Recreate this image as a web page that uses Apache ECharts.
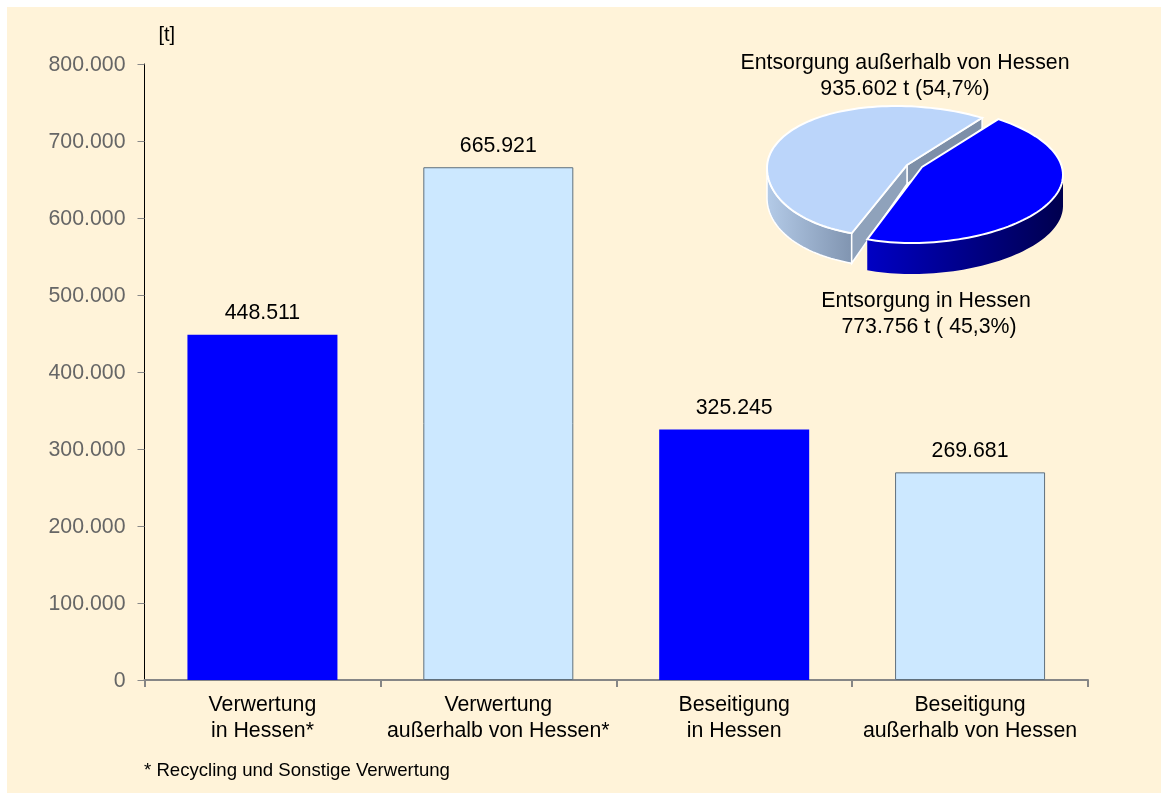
<!DOCTYPE html>
<html>
<head>
<meta charset="utf-8">
<style>html,body{margin:0;padding:0;background:#fff}#c{width:1161px;height:794px}</style>
<script src="https://cdn.jsdelivr.net/npm/echarts@6/dist/echarts.min.js"></script>
</head>
<body>
<div id="c"></div>
<script>
const categories = ['Verwertung\nin Hessen*', 'Verwertung\naußerhalb von Hessen*', 'Beseitigung\nin Hessen', 'Beseitigung\naußerhalb von Hessen'];
const barValues = [448511, 665921, 325245, 269681];
const pieNames = ['Entsorgung außerhalb von Hessen', 'Entsorgung in Hessen'];
const pieValues = [935602, 773756];
const pieValueLabels = ['935.602 t (54,7%)', '773.756 t ( 45,3%)'];
const unitLabel = '[t]';
const footnote = '* Recycling und Sonstige Verwertung';

const FONT = '"Liberation Sans", Arial, sans-serif';
const dots = v => String(v).replace(/\B(?=(\d{3})+$)/g, '.');
const BLUE = {color: '#0000ff'};
const LIGHT = {color: '#cce8ff', borderColor: '#5f6f7c', borderWidth: 1};

// Pie: an elliptical projection of the sector angles, derived from pieValues
const total = pieValues.reduce((a, b) => a + b, 0);
const startDeg = 54;
const sweeps = pieValues.map(v => v / total * 360);
const geom = [
  {cx: 907, cy: 168, rx: 140, ryTop: 62, ryBottom: 69, lean: 11, ax: 907, ay: 165, depth: 30},
  {cx: 922, cy: 175, rx: 141, ryTop: 69, ryBottom: 68, lean: 10, ax: 922, ay: 167, depth: 31}
];
const rad = d => d * Math.PI / 180;
function pt(g, deg, dy) {
  const s = Math.sin(rad(deg));
  return [
    g.cx + g.rx * Math.cos(rad(deg)) - g.lean * s * s,
    g.cy - (s > 0 ? g.ryTop : g.ryBottom) * s + (dy || 0)
  ];
}
function arc(g, a, b, dy) {
  const n = Math.max(2, Math.ceil(Math.abs(b - a) / 2));
  const out = [];
  for (let i = 0; i <= n; i++) out.push(pt(g, a + (b - a) * i / n, dy));
  return out;
}
function wall(g, a, b, fill, stroke) {
  return {
    type: 'polygon',
    shape: {points: arc(g, a, b, 0).concat(arc(g, b, a, g.depth))},
    style: {fill, stroke: stroke || 'none', lineWidth: 1.5}
  };
}
const grad = (c0, c1) => ({type: 'linear', x: 0, y: 0, x2: 1, y2: 0, colorStops: [{offset: 0, color: c0}, {offset: 1, color: c1}]});

function renderSlice(params) {
  const i = params.dataIndex;
  const g = geom[i];
  const from = i === 0 ? startDeg : startDeg + sweeps[0];
  const to = from + sweeps[i];
  const children = [];
  if (i === 0) {
    const e1 = pt(g, from), e2 = pt(g, to);
    children.push({type: 'polygon', shape: {points: [[g.ax, g.ay], e1, [e1[0], e1[1] + 11], [g.ax, g.ay + 19]]},
      style: {fill: '#7d8fa8', stroke: '#fff', lineWidth: 1.5}});
    children.push(wall(g, 180, to, grad('#b4cbe8', '#8094b0'), '#fff'));
    children.push({type: 'polygon', shape: {points: [[g.ax, g.ay], e2, [e2[0], e2[1] + g.depth], [g.ax, g.ay + 19]]},
      style: {fill: '#8fa2bb', stroke: '#fff', lineWidth: 1.5}});
    children.push({type: 'polygon', shape: {points: [[g.ax, g.ay]].concat(arc(g, from, to))},
      style: {fill: '#bbd5fa', stroke: '#fff', lineWidth: 2}});
  } else {
    children.push(wall(g, from, 360, grad('#0000c4', '#00004e')));
    children.push({type: 'polygon', shape: {points: [[g.ax, g.ay]].concat(arc(g, from, to))},
      style: {fill: '#0000ff', stroke: '#fff', lineWidth: 2}});
  }
  return {type: 'group', children};
}

function label(x, y, text, size, align) {
  return {type: 'text', x, y, z: 10,
    style: {text, fill: '#000', font: size + 'px ' + FONT, align: align || 'center', verticalAlign: 'middle'}};
}

const chart = echarts.init(document.getElementById('c'), null, {renderer: 'canvas'});
chart.setOption({
  animation: false,
  backgroundColor: '#ffffff',
  textStyle: {fontFamily: FONT},
  grid: {left: 144.5, right: 73, top: 64, bottom: 114},
  xAxis: {
    type: 'category', data: categories,
    axisLine: {lineStyle: {color: '#868686', width: 2}},
    axisTick: {show: true, alignWithLabel: false, length: 7, lineStyle: {color: '#868686', width: 2}},
    axisLabel: {color: '#000', fontSize: 21.3, lineHeight: 26, margin: 12, fontFamily: FONT, interval: 0}
  },
  yAxis: {
    type: 'value', min: 0, max: 800000, interval: 100000,
    name: unitLabel, nameLocation: 'end', nameGap: 19,
    nameTextStyle: {color: '#000', fontSize: 20, fontFamily: FONT, align: 'left', padding: [0, 0, 0, 14]},
    splitLine: {show: false},
    axisLine: {show: true, lineStyle: {color: '#000', width: 1}},
    axisTick: {show: true, length: 7, lineStyle: {color: '#888', width: 1}},
    axisLabel: {
      margin: 19, formatter: v => '{n|' + dots(v) + '}',
      rich: {n: {color: '#666', fontSize: 21.3, fontFamily: FONT, padding: [3, 0, 0, 0]}}
    }
  },
  series: [
    {
      type: 'bar', barWidth: 150,
      data: barValues.map((v, i) => ({value: v, itemStyle: i % 2 ? LIGHT : BLUE})),
      label: {show: true, position: 'top', distance: 11, color: '#000', fontSize: 21.3, fontFamily: FONT, formatter: p => dots(p.value)}
    },
    {
      type: 'custom', coordinateSystem: 'none', z: 5,
      data: pieValues,
      renderItem: renderSlice
    }
  ],
  graphic: [
    {type: 'rect', z: -100, silent: true, shape: {x: 7, y: 7, width: 1154, height: 786}, style: {fill: '#fff3d9'}},
    label(905, 63, pieNames[0], 21.3),
    label(905, 89, pieValueLabels[0], 21.3),
    label(926, 301, pieNames[1], 21.3),
    label(929, 327, pieValueLabels[1], 21.3),
    label(144, 771, footnote, 18.6, 'left')
  ]
});
</script>
</body>
</html>
